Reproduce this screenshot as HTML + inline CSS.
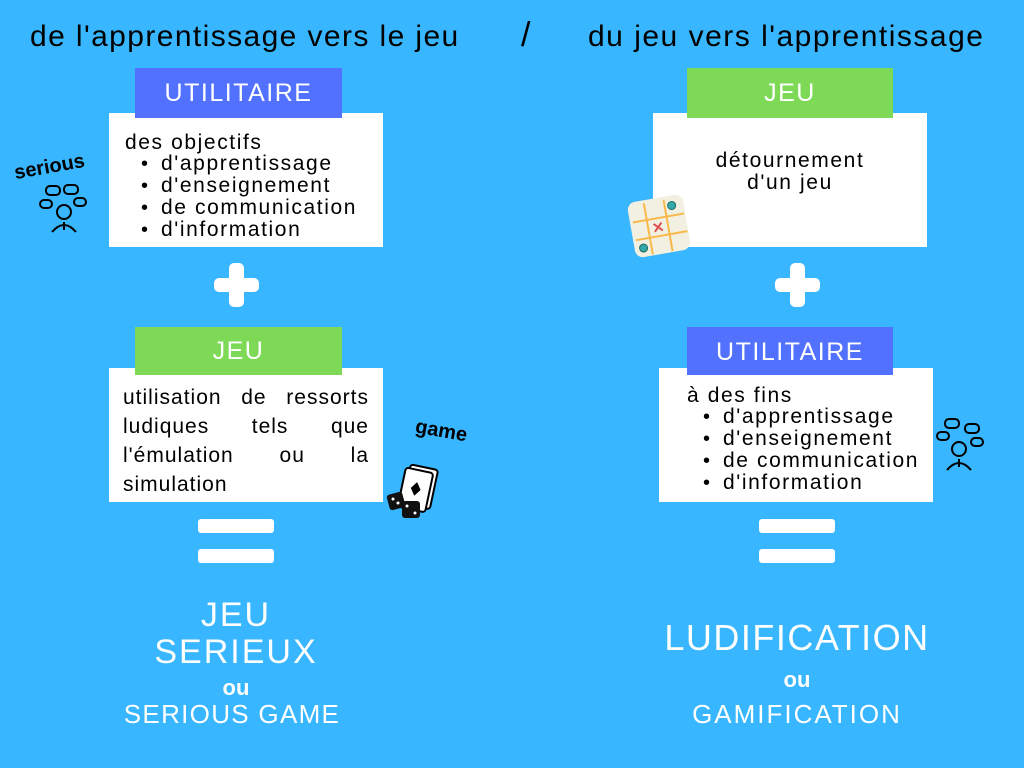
<!DOCTYPE html>
<html><head><meta charset="utf-8"><style>
*{margin:0;padding:0;box-sizing:border-box}
body{width:1024px;height:768px;background:#38b6ff;position:relative;overflow:hidden;font-family:"Liberation Sans",sans-serif}
.a{position:absolute}
.t{color:#000;font-size:30px;top:20px;white-space:nowrap}
.lab{position:absolute;color:#fff;font-size:25px;text-align:center;line-height:50px;letter-spacing:1.5px}
.blue{background:#5271ff}.green{background:#7ed957}
.box{position:absolute;background:#fff;color:#000;font-size:21px;line-height:21px;letter-spacing:1.6px;white-space:nowrap}
.box ul{list-style:none;padding-left:16px}
.box li:before{content:"•";display:inline-block;width:20px;font-size:20px;letter-spacing:0}
.j div{text-align:justify;text-align-last:justify;height:29px;line-height:29px}
.bar{position:absolute;background:#fff;border-radius:3px;height:14px;width:76px}
.plus{position:absolute;background:#fff;border-radius:5px}
.w{position:absolute;color:#fff;text-align:center;white-space:nowrap}
</style></head><body>
<div class="a t" style="left:30px;letter-spacing:1.4px">de l'apprentissage vers le jeu</div>
<div class="a t" style="left:521px;font-size:34px;top:16px">/</div>
<div class="a t" style="left:588px;letter-spacing:1.5px">du jeu vers l'apprentissage</div>

<!-- left -->
<div class="box" style="left:109px;top:113px;width:274px;height:134px;padding:19px 0 0 16px">des objectifs
<ul><li>d'apprentissage</li><li>d'enseignement</li><li>de communication</li><li>d'information</li></ul></div>
<div class="lab blue" style="left:135px;top:68px;width:207px;height:50px">UTILITAIRE</div>
<div class="plus" style="left:214px;top:278px;width:45px;height:14px"></div>
<div class="plus" style="left:229px;top:263px;width:15px;height:44px"></div>
<div class="box j" style="left:109px;top:368px;width:274px;height:134px;padding:15px 14px 0 14px;letter-spacing:1px">
<div>utilisation de ressorts</div><div>ludiques tels que</div><div>l'émulation ou la</div><div style="text-align-last:left">simulation</div></div>
<div class="lab green" style="left:135px;top:327px;width:207px;height:48px;line-height:48px">JEU</div>
<div class="bar" style="left:198px;top:519px"></div>
<div class="bar" style="left:198px;top:549px"></div>
<div class="w" style="left:136px;width:200px;top:596px;font-size:34px;letter-spacing:2px">JEU</div>
<div class="w" style="left:100px;width:272px;top:633px;font-size:34px;letter-spacing:2px">SERIEUX</div>
<div class="w" style="left:136px;width:200px;top:675px;font-size:22px;font-weight:bold">ou</div>
<div class="w" style="left:66px;width:332px;top:699px;font-size:26px;letter-spacing:1.3px">SERIOUS GAME</div>
<div class="a" style="left:14px;top:156px;font-size:20px;font-weight:bold;transform:rotate(-10deg)">serious</div>
<svg class="a" style="left:38px;top:184px" width="50" height="50" fill="none" stroke="#000" stroke-width="2"><rect x="8" y="2" width="14" height="9" rx="4"/><rect x="26" y="1" width="14" height="9" rx="4"/><rect x="2" y="16" width="12" height="8" rx="4"/><rect x="36" y="14" width="12" height="8" rx="4"/><circle cx="26" cy="28" r="7"/><path d="M14 48q12-14 24 0M26 38v8"/></svg>
<div class="a" style="left:415px;top:420px;font-size:20px;font-weight:bold;transform:rotate(10deg)">game</div>
<svg class="a" style="left:386px;top:463px" width="60" height="60"><g transform="rotate(12 35 25)"><rect x="20" y="4" width="28" height="40" rx="3" fill="#fff" stroke="#000" stroke-width="2"/><rect x="16" y="8" width="28" height="40" rx="3" fill="#fff" stroke="#000" stroke-width="2"/><path d="M30 20l5 7-5 7-5-7z" fill="#000"/></g><rect x="2" y="30" width="16" height="16" rx="3" fill="#111" transform="rotate(-15 10 38)"/><rect x="16" y="38" width="18" height="17" rx="3" fill="#111"/><g fill="#fff"><circle cx="7" cy="36" r="1.5"/><circle cx="12" cy="40" r="1.5"/><circle cx="21" cy="43" r="1.5"/><circle cx="29" cy="50" r="1.5"/></g></svg>

<!-- right -->
<div class="box" style="left:653px;top:113px;width:274px;height:134px;padding-top:37px;text-align:center;line-height:22px">détournement<br>d'un jeu</div>
<div class="lab green" style="left:687px;top:68px;width:206px;height:50px">JEU</div>
<svg class="a" style="left:626px;top:193px" width="66" height="66"><g transform="rotate(-10 33 33)"><rect x="5" y="5" width="56" height="56" rx="8" fill="#f2f0e0"/><path d="M22 8v52M42 8v52M8 25h52M8 43h52" stroke="#f8b84a" stroke-width="2"/><path d="M28 30l8 8M36 30l-8 8" stroke="#e05050" stroke-width="2"/><circle cx="49" cy="15" r="4" fill="#3aa" stroke="#266"/><circle cx="14" cy="52" r="4" fill="#3aa" stroke="#266"/></g></svg>
<div class="plus" style="left:775px;top:278px;width:45px;height:14px"></div>
<div class="plus" style="left:790px;top:263px;width:15px;height:44px"></div>
<div class="box" style="left:659px;top:368px;width:274px;height:134px;padding:17px 0 0 28px">à des fins
<ul><li>d'apprentissage</li><li>d'enseignement</li><li>de communication</li><li>d'information</li></ul></div>
<div class="lab blue" style="left:687px;top:327px;width:206px;height:48px;line-height:50px">UTILITAIRE</div>
<svg class="a" style="left:935px;top:416px" width="50" height="56" fill="none" stroke="#000" stroke-width="2"><rect x="10" y="3" width="14" height="9" rx="4"/><rect x="30" y="8" width="14" height="9" rx="4"/><rect x="2" y="16" width="12" height="8" rx="4"/><rect x="36" y="22" width="12" height="8" rx="4"/><circle cx="24" cy="33" r="7"/><path d="M12 54q12-14 24 0M24 43v8"/></svg>
<div class="bar" style="left:759px;top:519px"></div>
<div class="bar" style="left:759px;top:549px"></div>
<div class="w" style="left:627px;width:340px;top:617px;font-size:36px;letter-spacing:1.5px">LUDIFICATION</div>
<div class="w" style="left:697px;width:200px;top:667px;font-size:22px;font-weight:bold">ou</div>
<div class="w" style="left:647px;width:300px;top:699px;font-size:26px;letter-spacing:2px">GAMIFICATION</div>
</body></html>
